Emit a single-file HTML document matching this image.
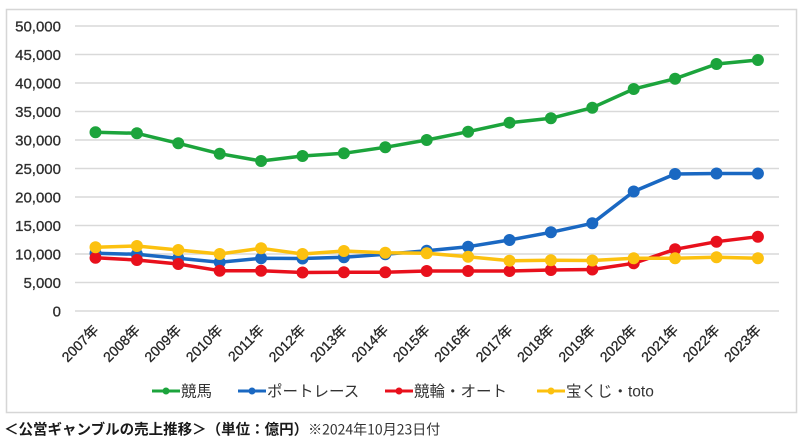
<!DOCTYPE html>
<html><head><meta charset="utf-8"><style>
html,body{margin:0;padding:0;background:#fff;width:800px;height:441px;overflow:hidden}
svg{display:block}
</style></head><body>
<svg width="800" height="441" viewBox="0 0 800 441" xmlns="http://www.w3.org/2000/svg">
<rect x="0" y="0" width="800" height="441" fill="#fff"/>
<rect x="6.5" y="9.5" width="790" height="403" fill="#fff" stroke="#d6d6d6" stroke-width="1.5"/>
<g stroke="#d9d9d9" stroke-width="1.5">
<line x1="75" y1="26" x2="779" y2="26"/>
<line x1="75" y1="54.5" x2="779" y2="54.5"/>
<line x1="75" y1="83" x2="779" y2="83"/>
<line x1="75" y1="111.5" x2="779" y2="111.5"/>
<line x1="75" y1="140" x2="779" y2="140"/>
<line x1="75" y1="168.5" x2="779" y2="168.5"/>
<line x1="75" y1="197" x2="779" y2="197"/>
<line x1="75" y1="225.5" x2="779" y2="225.5"/>
<line x1="75" y1="254" x2="779" y2="254"/>
<line x1="75" y1="282.5" x2="779" y2="282.5"/>
<line x1="75" y1="311" x2="779" y2="311"/>
</g>
<g font-family="Liberation Sans, sans-serif" font-size="15" fill="#2e2e2e" stroke="#2e2e2e" stroke-width="0.3" text-anchor="end">
<text x="61" y="31.5">50,000</text>
<text x="61" y="60">45,000</text>
<text x="61" y="88.5">40,000</text>
<text x="61" y="117">35,000</text>
<text x="61" y="145.5">30,000</text>
<text x="61" y="174">25,000</text>
<text x="61" y="202.5">20,000</text>
<text x="61" y="231">15,000</text>
<text x="61" y="259.5">10,000</text>
<text x="61" y="288">5,000</text>
<text x="61" y="316.5">0</text>
</g>
<g font-family="Liberation Sans, 'Noto Sans CJK JP', sans-serif" font-size="14" fill="#262626" stroke="#262626" stroke-width="0.3" text-anchor="end">
<text transform="translate(99.5,331) rotate(-45)">2007年</text>
<text transform="translate(140.9,331) rotate(-45)">2008年</text>
<text transform="translate(182.3,331) rotate(-45)">2009年</text>
<text transform="translate(223.7,331) rotate(-45)">2010年</text>
<text transform="translate(265.1,331) rotate(-45)">2011年</text>
<text transform="translate(306.5,331) rotate(-45)">2012年</text>
<text transform="translate(347.9,331) rotate(-45)">2013年</text>
<text transform="translate(389.3,331) rotate(-45)">2014年</text>
<text transform="translate(430.7,331) rotate(-45)">2015年</text>
<text transform="translate(472.1,331) rotate(-45)">2016年</text>
<text transform="translate(513.5,331) rotate(-45)">2017年</text>
<text transform="translate(554.9,331) rotate(-45)">2018年</text>
<text transform="translate(596.3,331) rotate(-45)">2019年</text>
<text transform="translate(637.7,331) rotate(-45)">2020年</text>
<text transform="translate(679.1,331) rotate(-45)">2021年</text>
<text transform="translate(720.5,331) rotate(-45)">2022年</text>
<text transform="translate(761.9,331) rotate(-45)">2023年</text>
</g>
<!-- green 競馬 -->
<g fill="#1ca43c" stroke="#1ca43c">
<polyline fill="none" stroke-width="3.5" stroke-linejoin="round" points="95.5,132.3 136.9,133.3 178.3,143.3 219.7,153.7 261.1,161 302.5,156 343.9,153.3 385.3,147.3 426.7,140 468.1,131.7 509.5,122.7 550.9,118.3 592.3,107.7 633.7,89 675.1,78.7 716.5,64 757.9,60"/>
<g stroke="none">
<circle cx="95.5" cy="132.3" r="6"/><circle cx="136.9" cy="133.3" r="6"/><circle cx="178.3" cy="143.3" r="6"/><circle cx="219.7" cy="153.7" r="6"/><circle cx="261.1" cy="161" r="6"/><circle cx="302.5" cy="156" r="6"/><circle cx="343.9" cy="153.3" r="6"/><circle cx="385.3" cy="147.3" r="6"/><circle cx="426.7" cy="140" r="6"/><circle cx="468.1" cy="131.7" r="6"/><circle cx="509.5" cy="122.7" r="6"/><circle cx="550.9" cy="118.3" r="6"/><circle cx="592.3" cy="107.7" r="6"/><circle cx="633.7" cy="89" r="6"/><circle cx="675.1" cy="78.7" r="6"/><circle cx="716.5" cy="64" r="6"/><circle cx="757.9" cy="60" r="6"/>
</g></g>
<!-- blue ボートレース -->
<g fill="#1a68c2" stroke="#1a68c2">
<polyline fill="none" stroke-width="3.5" stroke-linejoin="round" points="95.5,253.3 136.9,254.3 178.3,258.3 219.7,262.3 261.1,258.3 302.5,258.5 343.9,257.3 385.3,254.3 426.7,250.7 468.1,246.7 509.5,240 550.9,232.3 592.3,223.3 633.7,191.5 675.1,174 716.5,173.5 757.9,173.5"/>
<g stroke="none">
<circle cx="95.5" cy="253.3" r="6"/><circle cx="136.9" cy="254.3" r="6"/><circle cx="178.3" cy="258.3" r="6"/><circle cx="219.7" cy="262.3" r="6"/><circle cx="261.1" cy="258.3" r="6"/><circle cx="302.5" cy="258.5" r="6"/><circle cx="343.9" cy="257.3" r="6"/><circle cx="385.3" cy="254.3" r="6"/><circle cx="426.7" cy="250.7" r="6"/><circle cx="468.1" cy="246.7" r="6"/><circle cx="509.5" cy="240" r="6"/><circle cx="550.9" cy="232.3" r="6"/><circle cx="592.3" cy="223.3" r="6"/><circle cx="633.7" cy="191.5" r="6"/><circle cx="675.1" cy="174" r="6"/><circle cx="716.5" cy="173.5" r="6"/><circle cx="757.9" cy="173.5" r="6"/>
</g></g>
<!-- red 競輪・オート -->
<g fill="#e8101c" stroke="#e8101c">
<polyline fill="none" stroke-width="3.5" stroke-linejoin="round" points="95.5,257.7 136.9,260 178.3,264 219.7,270.7 261.1,270.7 302.5,272.5 343.9,272.3 385.3,272.3 426.7,271 468.1,271 509.5,271 550.9,270 592.3,269.5 633.7,263.3 675.1,249.3 716.5,241.7 757.9,236.7"/>
<g stroke="none">
<circle cx="95.5" cy="257.7" r="6"/><circle cx="136.9" cy="260" r="6"/><circle cx="178.3" cy="264" r="6"/><circle cx="219.7" cy="270.7" r="6"/><circle cx="261.1" cy="270.7" r="6"/><circle cx="302.5" cy="272.5" r="6"/><circle cx="343.9" cy="272.3" r="6"/><circle cx="385.3" cy="272.3" r="6"/><circle cx="426.7" cy="271" r="6"/><circle cx="468.1" cy="271" r="6"/><circle cx="509.5" cy="271" r="6"/><circle cx="550.9" cy="270" r="6"/><circle cx="592.3" cy="269.5" r="6"/><circle cx="633.7" cy="263.3" r="6"/><circle cx="675.1" cy="249.3" r="6"/><circle cx="716.5" cy="241.7" r="6"/><circle cx="757.9" cy="236.7" r="6"/>
</g></g>
<!-- yellow 宝くじ・toto -->
<g fill="#fcc10f" stroke="#fcc10f">
<polyline fill="none" stroke-width="3.5" stroke-linejoin="round" points="95.5,247.3 136.9,246 178.3,250 219.7,254 261.1,248.3 302.5,254 343.9,251 385.3,252.7 426.7,253.3 468.1,256.7 509.5,260.7 550.9,260.3 592.3,260.5 633.7,258.3 675.1,258.3 716.5,257.3 757.9,258.3"/>
<g stroke="none">
<circle cx="95.5" cy="247.3" r="6"/><circle cx="136.9" cy="246" r="6"/><circle cx="178.3" cy="250" r="6"/><circle cx="219.7" cy="254" r="6"/><circle cx="261.1" cy="248.3" r="6"/><circle cx="302.5" cy="254" r="6"/><circle cx="343.9" cy="251" r="6"/><circle cx="385.3" cy="252.7" r="6"/><circle cx="426.7" cy="253.3" r="6"/><circle cx="468.1" cy="256.7" r="6"/><circle cx="509.5" cy="260.7" r="6"/><circle cx="550.9" cy="260.3" r="6"/><circle cx="592.3" cy="260.5" r="6"/><circle cx="633.7" cy="258.3" r="6"/><circle cx="675.1" cy="258.3" r="6"/><circle cx="716.5" cy="257.3" r="6"/><circle cx="757.9" cy="258.3" r="6"/>
</g></g>
<!-- legend -->
<g stroke-width="3">
<line x1="152" y1="391" x2="180" y2="391" stroke="#1ca43c"/><circle cx="166" cy="391" r="3.5" fill="#1ca43c"/>
<line x1="238" y1="391" x2="266" y2="391" stroke="#1a68c2"/><circle cx="252" cy="391" r="3.5" fill="#1a68c2"/>
<line x1="385" y1="391" x2="413" y2="391" stroke="#e8101c"/><circle cx="399" cy="391" r="3.5" fill="#e8101c"/>
<line x1="537" y1="391" x2="565" y2="391" stroke="#fcc10f"/><circle cx="551" cy="391" r="3.5" fill="#fcc10f"/>
</g>
<g font-family="Liberation Sans, 'Noto Sans CJK JP', sans-serif" font-size="15.5" fill="#333">
<text x="181" y="396.5">競馬</text>
<text x="267" y="396.5">ポートレース</text>
<text x="414" y="396.5">競輪・オート</text>
<text x="566" y="396.5">宝くじ・toto</text>
</g>
<text x="4" y="434.5" font-family="'Noto Sans CJK JP', sans-serif" font-size="14.5" fill="#1a1a1a"><tspan font-weight="bold">＜公営ギャンブルの売上推移＞（単位：億円）</tspan><tspan font-size="14" fill="#333">※2024年10月23日付</tspan></text>
</svg>
</body></html>
